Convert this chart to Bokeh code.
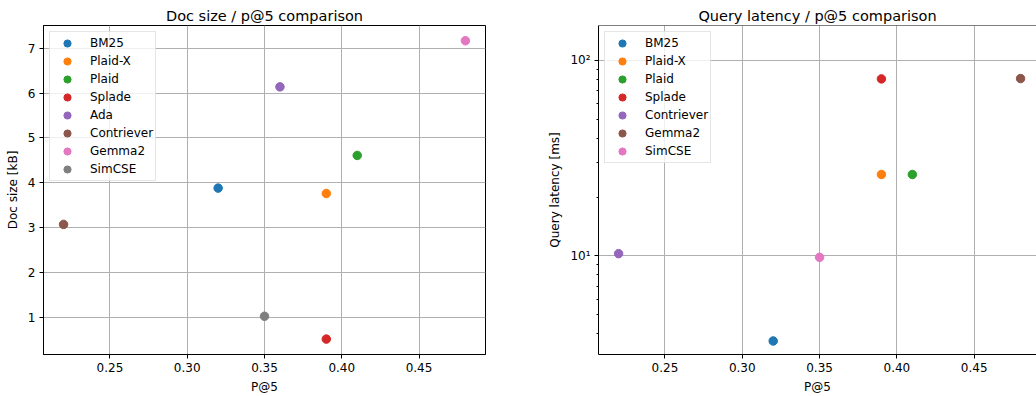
from bokeh.plotting import figure
from bokeh.layouts import row
from bokeh.models import FixedTicker, PrintfTickFormatter, Span, Range1d
from bokeh.embed import file_html
from bokeh.resources import INLINE

# ---------------- data ----------------
size_names = ["BM25", "Plaid-X", "Plaid", "Splade", "Ada", "Contriever", "Gemma2", "SimCSE"]
size_p5 = [0.32, 0.39, 0.41, 0.39, 0.36, 0.22, 0.48, 0.35]
doc_size_kb = [3.88, 3.76, 4.61, 0.51, 6.14, 3.07, 7.17, 1.02]

lat_names = ["BM25", "Plaid-X", "Plaid", "Splade", "Contriever", "Gemma2", "SimCSE"]
lat_p5 = [0.32, 0.39, 0.41, 0.39, 0.22, 0.48, 0.35]
latency_ms = [3.67, 26.1, 26.1, 80.5, 10.27, 80.8, 9.84]

x_ticks = [0.25, 0.30, 0.35, 0.40, 0.45]
size_ticks = [1, 2, 3, 4, 5, 6, 7]
lat_ticks = [10, 100]
lat_tick_labels = {10: "10¹", 100: "10²"}
lat_minor = [4, 5, 6, 7, 8, 9, 20, 30, 40, 50, 60, 70, 80, 90]

palette = ["#1f77b4", "#ff7f0e", "#2ca02c", "#d62728", "#9467bd",
           "#8c564b", "#e377c2", "#7f7f7f"]

FONT = "DejaVu Sans"


def style(p, xlabel, ylabel):
    p.title.text_font = FONT
    p.title.text_font_size = "14.5px"
    p.title.text_font_style = "normal"
    p.title.text_color = "black"
    p.title.align = "center"
    p.title.standoff = 4
    for ax in (p.xaxis[0], p.yaxis[0]):
        ax.major_label_text_font = FONT
        ax.major_label_text_font_size = "12px"
        ax.major_label_text_color = "black"
        ax.axis_label_text_font = FONT
        ax.axis_label_text_font_size = "12px"
        ax.axis_label_text_font_style = "normal"
        ax.axis_label_text_color = "black"
        ax.axis_line_color = "black"
        ax.axis_line_width = 1
        ax.major_tick_line_color = "black"
        ax.major_tick_in = 0
        ax.major_tick_out = 4
        ax.minor_tick_line_color = None
        ax.major_label_standoff = 4
        ax.axis_label_standoff = 5
    p.xaxis.axis_label = xlabel
    p.yaxis.axis_label = ylabel
    p.xaxis.ticker = FixedTicker(ticks=x_ticks)
    p.xaxis.formatter = PrintfTickFormatter(format="%.2f")
    p.grid.grid_line_color = "#b0b0b0"
    p.grid.grid_line_width = 1
    p.xgrid.ticker = FixedTicker(ticks=x_ticks)
    p.background_fill_color = "white"
    p.border_fill_color = "white"


def style_legend(p):
    lg = p.legend[0]
    lg.location = "top_left"
    lg.margin = 6
    lg.padding = 2
    lg.spacing = 0
    lg.glyph_width = 30
    lg.glyph_height = 18
    lg.label_height = 18
    lg.label_standoff = 8
    lg.label_text_font = FONT
    lg.label_text_font_size = "12px"
    lg.label_text_color = "black"
    lg.border_line_color = "#cccccc"
    lg.border_line_width = 1
    lg.background_fill_alpha = 0.8


# ---------------- left: doc size ----------------
p1 = figure(width=530, height=396, output_backend="svg", toolbar_location=None,
            title="Doc size / p@5 comparison",
            x_range=Range1d(0.207, 0.493), y_range=Range1d(0.166, 7.51),
            min_border_left=43, min_border_right=45, min_border_top=25,
            min_border_bottom=40)
for i, name in enumerate(size_names):
    p1.scatter([size_p5[i]], [doc_size_kb[i]], size=8.5, color=palette[i],
               legend_label=name)
style(p1, "P@5", "Doc size [kB]")
p1.yaxis.ticker = FixedTicker(ticks=size_ticks)
p1.ygrid.ticker = FixedTicker(ticks=size_ticks)
p1.outline_line_color = "black"
p1.outline_line_width = 1
style_legend(p1)

# ---------------- right: query latency ----------------
lat_colors = ["#1f77b4", "#ff7f0e", "#2ca02c", "#d62728", "#9467bd", "#8c564b", "#e377c2"]
p2 = figure(width=506, height=396, output_backend="svg", toolbar_location=None,
            title="Query latency / p@5 comparison", y_axis_type="log",
            x_range=Range1d(0.207, 0.4903), y_range=Range1d(3.13, 151),
            min_border_left=68, min_border_right=0, min_border_top=25,
            min_border_bottom=40)
for i, name in enumerate(lat_names):
    p2.scatter([lat_p5[i]], [latency_ms[i]], size=8.5, color=lat_colors[i],
               legend_label=name)
style(p2, "P@5", "Query latency [ms]")
p2.yaxis.ticker = FixedTicker(ticks=lat_ticks, minor_ticks=lat_minor)
p2.yaxis.major_label_overrides = lat_tick_labels
p2.yaxis.minor_tick_line_color = "black"
p2.yaxis.minor_tick_in = 0
p2.yaxis.minor_tick_out = 2
p2.ygrid.ticker = FixedTicker(ticks=lat_ticks)
p2.outline_line_color = None
p2.add_layout(Span(location=151, dimension="width", line_color="black", line_width=1))
style_legend(p2)

layout = row(p1, p2)
open("out.html", "w").write(file_html(layout, INLINE))
